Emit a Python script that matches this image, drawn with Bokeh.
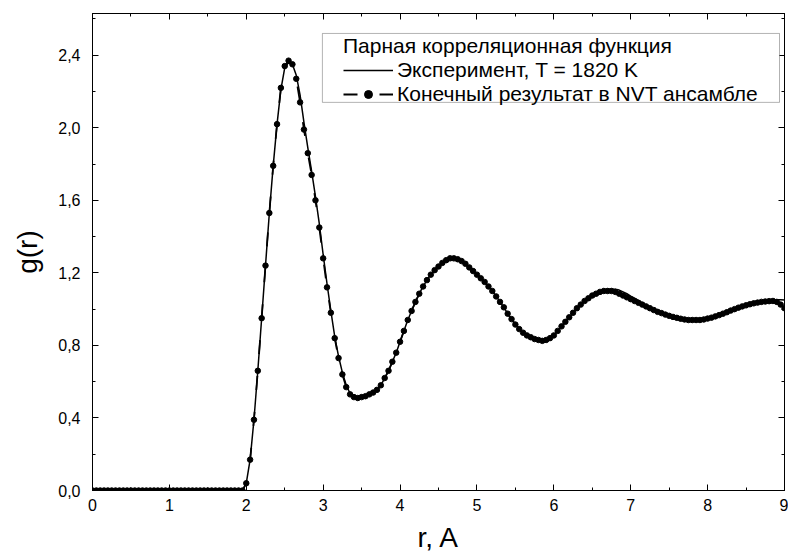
from bokeh.plotting import figure
from bokeh.models import (Range1d, LinearAxis, SingleIntervalTicker, CustomJSTickFormatter,
                          Legend, LegendItem, BoxAnnotation)
from bokeh.embed import file_html
from bokeh.resources import INLINE

# r grid, 0..9 A with 0.05 A step
r = [round(i * 0.05, 2) for i in range(181)]

zeros = [0.0] * 40  # r = 0.00 .. 1.95

# Simulation (NVT ensemble), r = 2.00 .. 9.00
g_sim = zeros + [
    0.04, 0.17, 0.39, 0.66, 0.95, 1.24, 1.53, 1.79, 2.02, 2.22,
    2.34, 2.37, 2.35, 2.27, 2.14, 1.99, 1.86, 1.74, 1.60, 1.45,
    1.28, 1.12, 0.98, 0.84, 0.73, 0.64, 0.57, 0.53, 0.515, 0.51,
    0.515, 0.52, 0.53, 0.54, 0.555, 0.58, 0.62, 0.66, 0.71, 0.76,
    0.82, 0.88, 0.94, 0.99, 1.04, 1.085, 1.125, 1.16, 1.19, 1.215,
    1.235, 1.255, 1.27, 1.28, 1.28, 1.275, 1.265, 1.25, 1.23, 1.21,
    1.19, 1.17, 1.15, 1.125, 1.10, 1.07, 1.04, 1.01, 0.975, 0.945,
    0.915, 0.89, 0.87, 0.855, 0.845, 0.835, 0.83, 0.825, 0.83, 0.84,
    0.855, 0.88, 0.905, 0.93, 0.955, 0.98, 1.005, 1.025, 1.045, 1.06,
    1.075, 1.085, 1.095, 1.10, 1.10, 1.10, 1.095, 1.085, 1.075, 1.065,
    1.055, 1.045, 1.035, 1.025, 1.015, 1.005, 0.995, 0.985, 0.978, 0.97,
    0.963, 0.957, 0.952, 0.947, 0.943, 0.94, 0.94, 0.94, 0.94, 0.943,
    0.948, 0.953, 0.96, 0.967, 0.975, 0.983, 0.992, 1.0, 1.008, 1.015,
    1.021, 1.027, 1.032, 1.036, 1.04, 1.042, 1.044, 1.045, 1.04, 1.025,
    1.005,
]

# Experiment, T = 1820 K, r = 2.00 .. 9.00
g_exp = zeros + [
    0.04, 0.17, 0.39, 0.66, 0.95, 1.24, 1.53, 1.79, 2.02, 2.21,
    2.33, 2.36, 2.35, 2.29, 2.18, 2.03, 1.89, 1.76, 1.62, 1.47,
    1.30, 1.14, 0.99, 0.85, 0.74, 0.65, 0.58, 0.535, 0.515, 0.51,
    0.515, 0.52, 0.53, 0.54, 0.555, 0.58, 0.62, 0.66, 0.71, 0.76,
    0.82, 0.88, 0.94, 0.99, 1.04, 1.085, 1.125, 1.16, 1.19, 1.215,
    1.235, 1.255, 1.27, 1.28, 1.28, 1.275, 1.265, 1.25, 1.23, 1.21,
    1.19, 1.17, 1.15, 1.125, 1.10, 1.07, 1.04, 1.01, 0.975, 0.945,
    0.915, 0.89, 0.87, 0.855, 0.845, 0.835, 0.83, 0.825, 0.83, 0.84,
    0.855, 0.88, 0.905, 0.93, 0.955, 0.98, 1.005, 1.025, 1.045, 1.06,
    1.075, 1.09, 1.10, 1.105, 1.11, 1.11, 1.11, 1.105, 1.095, 1.085,
    1.072, 1.06, 1.048, 1.035, 1.022, 1.01, 0.998, 0.987, 0.978, 0.97,
    0.963, 0.957, 0.952, 0.947, 0.943, 0.94, 0.94, 0.94, 0.94, 0.943,
    0.948, 0.953, 0.96, 0.967, 0.975, 0.983, 0.992, 1.0, 1.008, 1.015,
    1.021, 1.027, 1.032, 1.037, 1.041, 1.044, 1.047, 1.05, 1.052, 1.052,
    1.05,
]

legend_title = "Парная корреляционная функция"
label_exp = "Эксперимент, T = 1820 K"
label_sim = "Конечный результат в NVT ансамбле"
x_title = "r, A"
y_title = "g(r)"

FONT = "Liberation Sans"

p = figure(width=788, height=556, x_range=Range1d(0, 9), y_range=Range1d(0, 2.63),
           output_backend="svg", toolbar_location=None,
           min_border_left=92, min_border_right=4, min_border_top=13, min_border_bottom=66)
p.xgrid.visible = False
p.ygrid.visible = False
p.outline_line_color = "black"
p.outline_line_width = 1
p.background_fill_color = "white"
p.border_fill_color = "white"

bottom = p.below[0]
left = p.left[0]
bottom.ticker = SingleIntervalTicker(interval=1, num_minor_ticks=2)
left.ticker = SingleIntervalTicker(interval=0.4, num_minor_ticks=2)
left.formatter = CustomJSTickFormatter(code="return tick.toFixed(1).replace('.', ',');")
bottom.formatter = CustomJSTickFormatter(code="return tick.toFixed(0);")

blank = CustomJSTickFormatter(code="return '';")
top = LinearAxis(ticker=SingleIntervalTicker(interval=1, num_minor_ticks=2),
                 formatter=blank, major_label_standoff=0)
right = LinearAxis(ticker=SingleIntervalTicker(interval=0.4, num_minor_ticks=2),
                   formatter=blank, major_label_standoff=0)
p.add_layout(top, "above")
p.add_layout(right, "right")

for ax in [bottom, left, top, right]:
    ax.major_tick_in = 6
    ax.major_tick_out = 0
    ax.minor_tick_in = 3
    ax.minor_tick_out = 0
    ax.axis_line_color = "black"
    ax.major_tick_line_color = "black"
    ax.minor_tick_line_color = "black"
    ax.major_label_text_color = "black"
    ax.major_label_text_font = FONT

bottom.major_label_text_font_size = "16px"
left.major_label_text_font_size = "16px"
bottom.major_label_standoff = 8
left.major_label_standoff = 12
bottom.axis_label = x_title
left.axis_label = y_title
for ax in [bottom, left]:
    ax.axis_label_text_font = FONT
    ax.axis_label_text_font_size = "28px"
    ax.axis_label_text_font_style = "normal"
    ax.axis_label_text_color = "black"
bottom.axis_label_standoff = 8
left.axis_label_standoff = 12

exp_r = p.line(r, g_exp, line_color="black", line_width=1.5)
sim_line = p.line(r, g_sim, line_color="black", line_width=1.8, line_dash="14 22")
sim_dots = p.scatter(r, g_sim, size=5.5, marker="circle", fill_color="black", line_color="black")

# legend frame (drawn separately so that the inner padding matches the original)
frame_box = BoxAnnotation(left=2.99, right=8.935, top=2.52, bottom=2.14,
                          fill_color="white", fill_alpha=1.0,
                          line_color="black", line_width=1)
p.add_layout(frame_box)

legend = Legend(items=[LegendItem(label=label_exp, renderers=[exp_r]),
                       LegendItem(label=label_sim, renderers=[sim_line, sim_dots])],
                title=legend_title, location=(251, 384))
legend.title_text_font = FONT
legend.title_text_font_size = "21px"
legend.title_text_font_style = "normal"
legend.title_text_color = "black"
legend.title_standoff = 0
legend.label_text_font = FONT
legend.label_text_font_size = "21px"
legend.label_text_color = "black"
legend.glyph_width = 50
legend.glyph_height = 20
legend.label_height = 20
legend.label_standoff = 4
legend.spacing = 0
legend.padding = 0
legend.margin = 0
legend.border_line_color = None
legend.background_fill_alpha = 0.0
p.add_layout(legend)

open("out.html", "w").write(file_html(p, INLINE))
